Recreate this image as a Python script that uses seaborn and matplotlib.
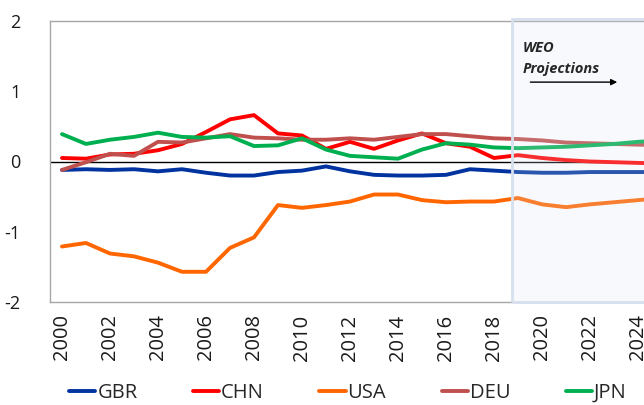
import numpy as np
import pandas as pd
import matplotlib
matplotlib.use("Agg")
import matplotlib.pyplot as plt
import seaborn as sns
from matplotlib.patches import Rectangle

years = list(range(2000, 2026))
GBR = [-0.12, -0.11, -0.12, -0.11, -0.14, -0.11, -0.16, -0.20, -0.20, -0.15, -0.13, -0.07, -0.14,
       -0.19, -0.20, -0.20, -0.19, -0.11, -0.13, -0.15, -0.16, -0.16, -0.15, -0.15, -0.15, -0.15]
CHN = [0.05, 0.04, 0.10, 0.11, 0.16, 0.25, 0.42, 0.60, 0.66, 0.40, 0.37, 0.18, 0.28,
       0.18, 0.30, 0.40, 0.26, 0.21, 0.05, 0.09, 0.05, 0.02, 0.00, -0.01, -0.02, -0.03]
USA = [-1.21, -1.16, -1.31, -1.35, -1.44, -1.57, -1.57, -1.23, -1.08, -0.62, -0.66, -0.62, -0.57,
       -0.47, -0.47, -0.55, -0.58, -0.57, -0.57, -0.52, -0.61, -0.65, -0.61, -0.58, -0.55, -0.52]
DEU = [-0.12, -0.01, 0.11, 0.08, 0.28, 0.27, 0.33, 0.39, 0.34, 0.33, 0.31, 0.31, 0.33,
       0.31, 0.35, 0.39, 0.39, 0.36, 0.33, 0.32, 0.30, 0.27, 0.26, 0.25, 0.24, 0.23]
JPN = [0.39, 0.25, 0.31, 0.35, 0.41, 0.35, 0.34, 0.36, 0.22, 0.23, 0.33, 0.17, 0.08,
       0.06, 0.04, 0.17, 0.26, 0.24, 0.20, 0.19, 0.20, 0.21, 0.23, 0.25, 0.28, 0.30]
countries = ["GBR", "CHN", "USA", "DEU", "JPN"]
colors = ["#0033A0", "#FF0000", "#FF6600", "#C0504D", "#00B050"]
xticks = list(range(2000, 2025, 2))
yticks = [-2, -1, 0, 1, 2]
proj_start = 2018.75
annot_lines = ["WEO", "Projections"]

series = {"GBR": GBR, "CHN": CHN, "USA": USA, "DEU": DEU, "JPN": JPN}
df = pd.DataFrame([(y, c, v) for c in countries for y, v in zip(years, series[c])],
                  columns=["year", "country", "value"])

sns.set_theme(style="white")
plt.rcParams["font.family"] = ["Open Sans", "DejaVu Sans"]
plt.rcParams["axes.unicode_minus"] = False

fig = plt.figure(figsize=(6.44, 4.05), dpi=100)
ax = fig.add_axes([50/644, 1-302/405, 624/644, 281/405])

sns.lineplot(data=df, x="year", y="value", hue="country", hue_order=countries,
             palette=colors, linewidth=2.8, ax=ax, legend=True)

ax.axhline(0, color="black", lw=1.0, zorder=1)
ax.set_xlim(1999.5, 2025.5)
ax.set_ylim(-2, 2)
ax.set_xticks(xticks)
ax.set_xticklabels([str(t) for t in xticks], rotation=90, fontsize=14.5)
ax.set_yticks(yticks)
ax.set_yticklabels([str(t) for t in yticks], fontsize=13)
ax.tick_params(axis="y", length=0, pad=21, colors="#1a1a1a")
ax.tick_params(axis="x", length=0, pad=9, colors="#1a1a1a")
ax.set_xlabel("")
ax.set_ylabel("")
for s in ["left", "top", "bottom"]:
    ax.spines[s].set_color("#A6A6A6")
    ax.spines[s].set_linewidth(1.0)
ax.spines["right"].set_visible(False)

rect = Rectangle((proj_start, -2), 10, 4.035, facecolor="#DCE4F0", alpha=0.2,
                 edgecolor="none", zorder=5, clip_on=False)
ax.add_patch(rect)
border = Rectangle((proj_start, -2), 10, 4.035, facecolor="none",
                   edgecolor="#D6E0EE", lw=2, zorder=6, clip_on=False)
ax.add_patch(border)

ax.text(proj_start + 0.45, 1.62, annot_lines[0], fontsize=10.5, fontweight="bold",
        style="italic", ha="left", va="center", zorder=7)
ax.text(proj_start + 0.45, 1.32, annot_lines[1], fontsize=10.5, fontweight="bold",
        style="italic", ha="left", va="center", zorder=7)
ax.annotate("", xy=(proj_start + 4.5, 1.13), xytext=(proj_start + 0.65, 1.13),
            arrowprops=dict(arrowstyle="-|>", color="black", lw=1.0,
                            mutation_scale=9), zorder=7)

handles, labels = ax.get_legend_handles_labels()
ax.legend(handles, labels, loc="center", bbox_to_anchor=(348/644, 1-393/405),
          bbox_transform=fig.transFigure, ncol=5, frameon=False, fontsize=14.5,
          handlelength=1.3, handletextpad=0.1, columnspacing=2.75)

fig.savefig("out.png", dpi=100)
